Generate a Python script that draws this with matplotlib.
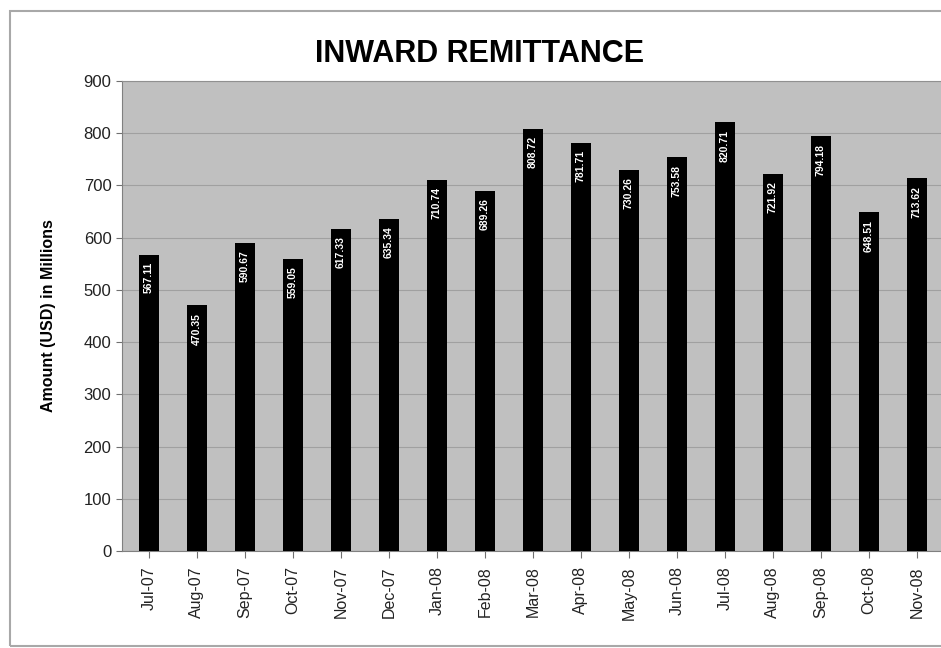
import matplotlib.pyplot as plt
from matplotlib.patches import Rectangle

months = ['Jul-07', 'Aug-07', 'Sep-07', 'Oct-07', 'Nov-07', 'Dec-07',
          'Jan-08', 'Feb-08', 'Mar-08', 'Apr-08', 'May-08', 'Jun-08',
          'Jul-08', 'Aug-08', 'Sep-08', 'Oct-08', 'Nov-08']
amounts = [567.11, 470.35, 590.67, 559.05, 617.33, 635.34,
           710.74, 689.26, 808.72, 781.71, 730.26, 753.58,
           820.71, 721.92, 794.18, 648.51, 713.62]
yticks = [0, 100, 200, 300, 400, 500, 600, 700, 800, 900]


def main():
    plt.rcParams['font.family'] = ['Liberation Sans', 'DejaVu Sans']

    fig = plt.figure(figsize=(9.41, 6.48), dpi=100)

    # Outer chart frame
    fig.patches.append(Rectangle((0.011, 0.003), 1.0, 0.98, transform=fig.transFigure,
                                 fill=False, edgecolor='#a8a8a8', linewidth=1.5))

    ax = fig.add_axes([0.1295, 0.1497, 0.8705, 0.7253])
    ax.set_facecolor('#c0c0c0')

    x = range(len(months))
    ax.bar(x, amounts, width=0.42, color='black', zorder=3)

    # Value labels written up the bar, near the top
    for xi, val in zip(x, amounts):
        ax.text(xi, val - 14, f'{val:.2f}', rotation=90, ha='center', va='top',
                color='white', fontsize=7.5, fontweight='bold', zorder=4)

    ax.set_xlim(-0.56, 16.5)
    ax.set_ylim(0, 900)
    ax.set_yticks(yticks)
    ax.yaxis.grid(True, color='#a0a0a0', linewidth=0.8, zorder=0)

    ax.set_xticks(list(x))
    ax.set_xticklabels(months, rotation=90, fontsize=11.5, color='#222222')
    ax.tick_params(axis='y', labelsize=12, length=4, color='#707070',
                   labelcolor='#222222')
    ax.tick_params(axis='x', length=5, pad=6, color='#707070')

    ax.spines['right'].set_visible(False)
    ax.spines['top'].set_color('#909090')
    ax.spines['left'].set_color('#808080')
    ax.spines['bottom'].set_color('#808080')

    ax.set_ylabel('Amount (USD) in Millions', fontsize=11.5, fontweight='bold',
                  labelpad=20)
    fig.text(0.51, 0.917, 'INWARD REMITTANCE', ha='center', va='center',
             fontsize=22, fontweight='bold')

    fig.savefig('out.png', dpi=100)
    plt.close()


if __name__ == "__main__":
    main()
